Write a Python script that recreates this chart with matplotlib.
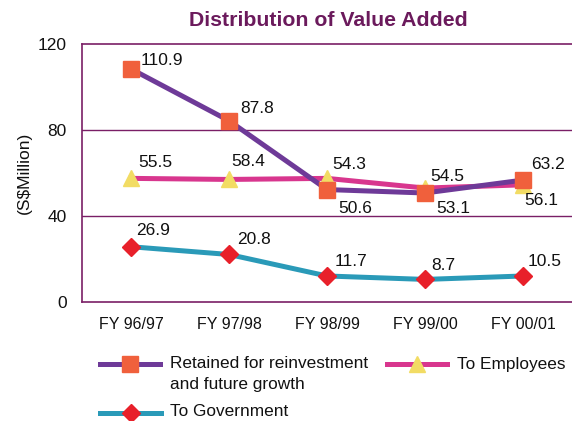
import matplotlib
matplotlib.use("Agg")
import matplotlib.pyplot as plt
from matplotlib.lines import Line2D

plt.rcParams['font.family'] = ['Liberation Sans', 'DejaVu Sans']

categories = ["FY 96/97", "FY 97/98", "FY 98/99", "FY 99/00", "FY 00/01"]
retained = [108.4, 84.3, 52.3, 50.7, 56.7]
employees = [57.5, 57.0, 57.5, 53.0, 54.5]
government = [25.7, 22.1, 12.1, 10.5, 12.1]
retained_labels = ["110.9", "87.8", "50.6", "53.1", "63.2"]
employees_labels = ["55.5", "58.4", "54.3", "54.5", "56.1"]
government_labels = ["26.9", "20.8", "11.7", "8.7", "10.5"]
yticks = [0, 40, 80, 120]

frame_c = "#7A1F66"
c_ret_line, c_ret_mk = "#6E3A98", "#F0603C"
c_emp_line, c_emp_mk = "#D8368E", "#F2DC64"
c_gov_line, c_gov_mk = "#2A9AB8", "#E8202A"
txt_c = "#111111"

fig = plt.figure(figsize=(5.72, 4.21), dpi=100)
ax = fig.add_axes([82/572, (421-302)/421, 1 - 82/572, (302-44)/421])
x = list(range(len(categories)))

ax.plot(x, retained, color=c_ret_line, lw=3.6, marker='s', ms=11.5,
        mfc=c_ret_mk, mec=c_ret_mk, zorder=4)
ax.plot(x, employees, color=c_emp_line, lw=3.6, marker='^', ms=11,
        mfc=c_emp_mk, mec=c_emp_mk, zorder=3)
ax.plot(x, government, color=c_gov_line, lw=3.6, marker='D', ms=9,
        mfc=c_gov_mk, mec=c_gov_mk, zorder=3)

ret_off = [(10, 8), (11, 12), (11, -19), (11, -16), (8, 16)]
emp_off = [(7, 16), (2, 18), (5, 14), (5, 12), (1, -16)]
gov_off = [(5, 16), (8, 15), (8, 14), (6, 14), (5, 14)]
for vals, labs, offs in [(retained, retained_labels, ret_off),
                         (employees, employees_labels, emp_off),
                         (government, government_labels, gov_off)]:
    for xi, v, lab, (dx, dy) in zip(x, vals, labs, offs):
        ax.annotate(lab, (xi, v), xytext=(dx, dy), textcoords='offset pixels',
                    ha='left', va='center', fontsize=12.5, color=txt_c, zorder=6)

ax.set_xlim(-0.5, 4.5)
ax.set_ylim(0, 120)
ax.set_xticks(x)
ax.set_xticklabels(categories, fontsize=11.5, color=txt_c)
ax.set_yticks(yticks)
ax.set_yticklabels([str(t) for t in yticks], fontsize=12.5, color=txt_c)
ax.tick_params(axis='both', length=0)
ax.tick_params(axis='y', pad=11)
ax.tick_params(axis='x', pad=11)
for s in ['left', 'top', 'bottom']:
    ax.spines[s].set_color(frame_c)
    ax.spines[s].set_linewidth(1.2)
ax.spines['right'].set_visible(False)
for g in [40, 80]:
    ax.axhline(g, color=frame_c, lw=1.0, zorder=1)
ax.set_ylabel("(S$Million)", fontsize=12.5, color=txt_c)
ax.yaxis.set_label_coords(-(82-32)/490, 0.5)

fig.text(328/572, 1 - 20/421, "Distribution of Value Added", ha='center', va='center',
         fontsize=15.3, fontweight='bold', color="#6B1A5C")

# legend (manual)
def leg(x0, x1, y, lc, mc, mk, ms):
    yy = 1 - y/421
    fig.add_artist(Line2D([x0/572, x1/572], [yy, yy], color=lc, lw=3.6,
                          transform=fig.transFigure))
    fig.add_artist(Line2D([(x0+x1)/2/572], [yy], marker=mk, ms=ms, mfc=mc, mec=mc,
                          ls='none', transform=fig.transFigure))

leg(100, 160, 364, c_ret_line, c_ret_mk, 's', 11.5)
leg(387, 447, 364, c_emp_line, c_emp_mk, '^', 11)
leg(100, 161, 413, c_gov_line, c_gov_mk, 'D', 9)
fs_leg = 12.4
fig.text(170/572, 1 - 363/421, "Retained for reinvestment", ha='left', va='center', fontsize=fs_leg, color=txt_c)
fig.text(170/572, 1 - 384/421, "and future growth", ha='left', va='center', fontsize=fs_leg, color=txt_c)
fig.text(457/572, 1 - 364/421, "To Employees", ha='left', va='center', fontsize=fs_leg, color=txt_c)
fig.text(170/572, 1 - 412/421, "To Government", ha='left', va='center', fontsize=fs_leg, color=txt_c)

fig.savefig("out.png", dpi=100)
